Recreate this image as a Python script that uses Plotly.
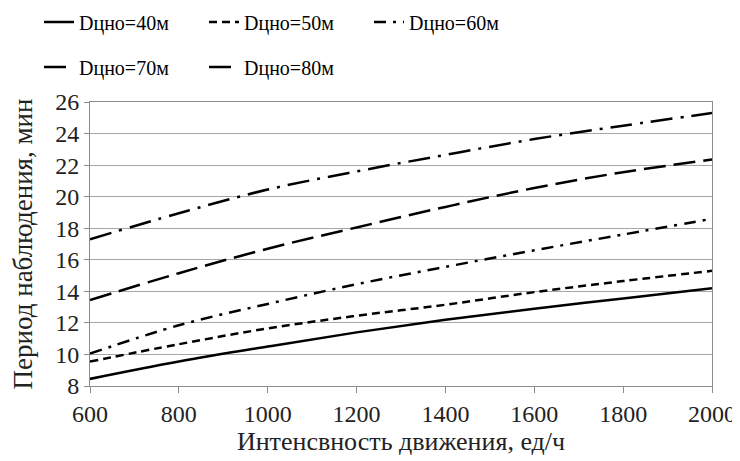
import plotly.graph_objects as go

x_vals = [600, 800, 1000, 1200, 1400, 1600, 1800, 2000]
d40 = [8.45, 9.55, 10.5, 11.4, 12.2, 12.9, 13.55, 14.2]
d50 = [9.55, 10.65, 11.65, 12.45, 13.15, 13.95, 14.65, 15.3]
d60 = [10.05, 11.85, 13.2, 14.45, 15.55, 16.6, 17.6, 18.6]
d70 = [13.45, 15.15, 16.7, 18.05, 19.35, 20.55, 21.55, 22.35]
d80 = [17.3, 18.95, 20.45, 21.6, 22.65, 23.65, 24.5, 25.3]
names = ["Dцно=40м", "Dцно=50м", "Dцно=60м", "Dцно=70м", "Dцно=80м"]
series = [d40, d50, d60, d70, d80]
dashes = ["solid", "8px,5px", "12px,7px,3px,7px", "22px,8px", "22px,8px,3px,8px"]
legends = ["legend", "legend", "legend", "legend2", "legend2"]

FONT = "'Liberation Serif', 'DejaVu Serif', serif"

fig = go.Figure()
for nm, ys, ds, lg in zip(names, series, dashes, legends):
    fig.add_trace(go.Scatter(
        x=x_vals, y=ys, name=nm, mode="lines",
        line=dict(color="black", width=2.5, dash=ds, shape="spline"),
        legend=lg,
    ))

leg_common = dict(
    orientation="h", xref="container", yref="container",
    xanchor="left", yanchor="middle",
    font=dict(family=FONT, size=20, color="black"),
    entrywidth=120, entrywidthmode="pixels",
    bgcolor="rgba(0,0,0,0)", itemwidth=30, tracegroupgap=0,
)

fig.update_layout(
    width=740, height=461,
    margin=dict(l=82, r=36, t=94, b=83, autoexpand=False),
    paper_bgcolor="white", plot_bgcolor="white",
    font=dict(family=FONT, size=20, color="black"),
    showlegend=True,
    legend=dict(x=31/740, y=1-14/461, **leg_common),
    legend2=dict(x=31/740, y=1-59/461, **leg_common),
    xaxis=dict(
        range=[600, 2000], tickvals=[600, 800, 1000, 1200, 1400, 1600, 1800, 2000],
        showgrid=False, showline=True, linecolor="#8c8c8c", linewidth=1, mirror=True,
        ticks="outside", ticklen=6, tickcolor="#8c8c8c",
        tickfont=dict(family=FONT, size=24, color="#222"),
        title=dict(text="Интенсвность движения, ед/ч", font=dict(family=FONT, size=26, color="#222"), standoff=4),
        zeroline=False, automargin=False,
    ),
    yaxis=dict(
        range=[8, 26], tickvals=list(range(8, 27, 2)),
        showgrid=True, gridcolor="#a6a6a6", gridwidth=1,
        showline=True, linecolor="#8c8c8c", linewidth=1, mirror=True,
        ticks="outside", ticklen=5, tickcolor="#8c8c8c",
        tickfont=dict(family=FONT, size=24, color="#222"),
        title=dict(text="Период наблюдения, мин", font=dict(family=FONT, size=27, color="#222"), standoff=15),
        zeroline=False, automargin=False,
    ),
)

fig.write_html("out.html")
